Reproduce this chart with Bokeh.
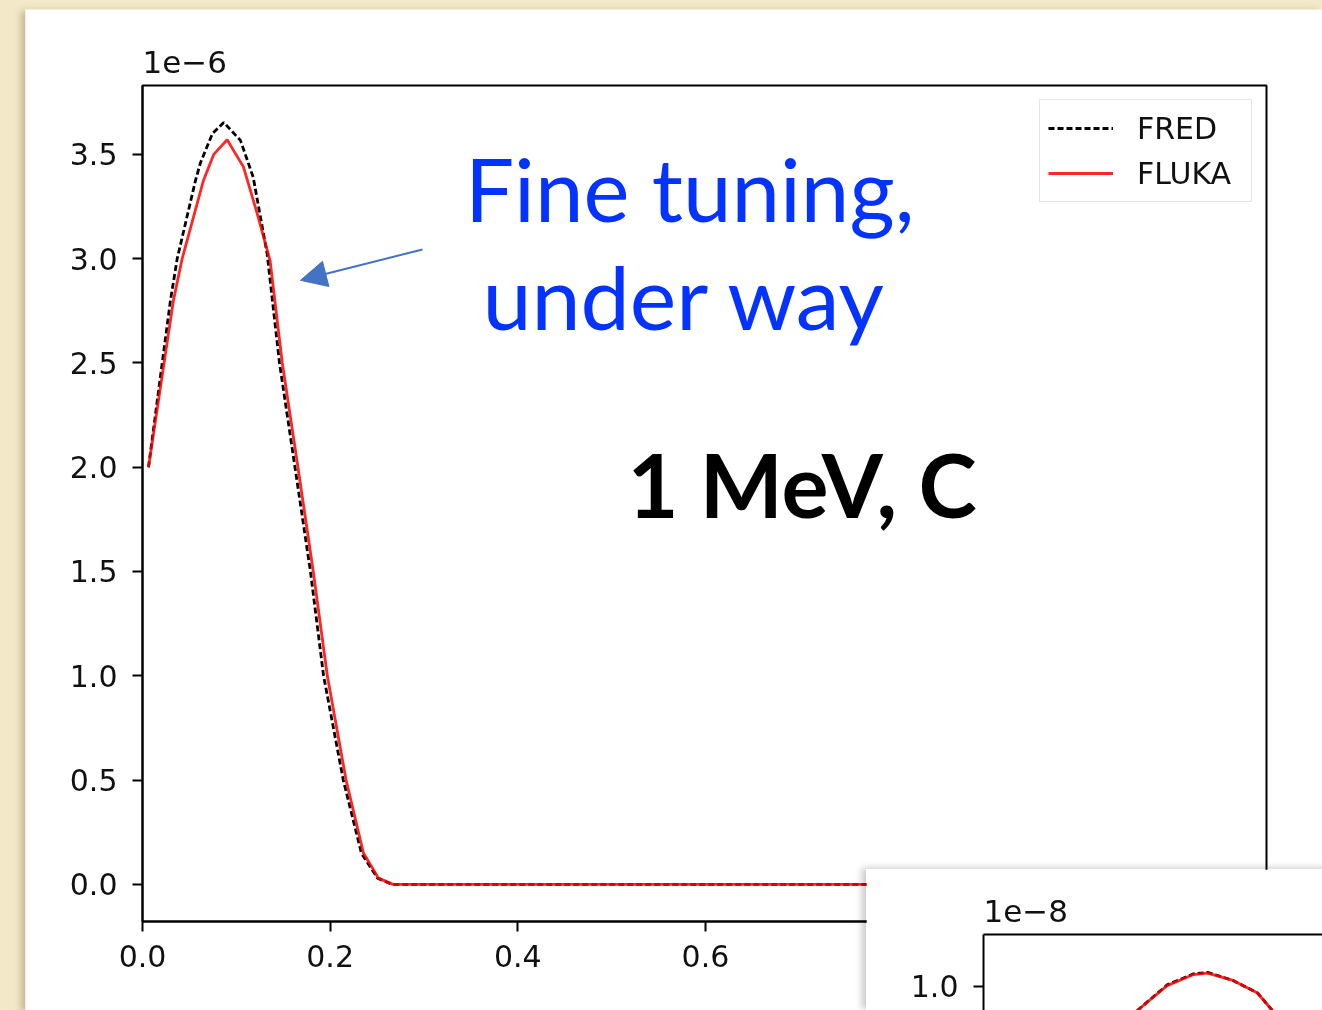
from bokeh.plotting import figure
from bokeh.models import (Label, Arrow, NormalHead, Legend, LegendItem, LinearAxis,
                          Range1d, FixedTicker, InlineStyleSheet, GlobalInlineStyleSheet,
                          PrintfTickFormatter)
from bokeh.layouts import column
from bokeh.embed import file_html
from bokeh.resources import INLINE

# ---------------- data (main panel, y in units of 1e-6) ----------------
fluka_x = [0.0064, 0.0330, 0.0423, 0.0650, 0.0760, 0.0902, 0.1076, 0.1222, 0.1360,
           0.1490, 0.1657, 0.1820, 0.1970, 0.2170, 0.2355, 0.2515, 0.2670,
           0.40, 0.60, 0.80, 1.00, 1.14]
fluka_y = [2.00, 2.80, 3.00, 3.375, 3.50, 3.57, 3.44, 3.217, 2.99,
           2.50, 2.00, 1.50, 1.00, 0.50, 0.15, 0.03, 0.0,
           0.0, 0.0, 0.0, 0.0, 0.0]
fred_x = [0.0064, 0.0298, 0.0370, 0.0565, 0.0618, 0.0746, 0.0866, 0.1044, 0.1180, 0.1328,
          0.1460, 0.1625, 0.1790, 0.1930, 0.2140, 0.2333, 0.2504, 0.2660,
          0.40, 0.60, 0.80, 1.00, 1.14]
fred_y = [2.00, 2.80, 3.00, 3.375, 3.46, 3.60, 3.653, 3.567, 3.39, 3.025,
          2.50, 2.00, 1.50, 1.00, 0.50, 0.15, 0.03, 0.0,
          0.0, 0.0, 0.0, 0.0, 0.0]
x_ticks = [0.0, 0.2, 0.4, 0.6, 0.8, 1.0]
y_ticks = [0.0, 0.5, 1.0, 1.5, 2.0, 2.5, 3.0, 3.5]
series_labels = ["FRED", "FLUKA"]
offset_label = "1e\u22126"

# ---------------- data (inset panel, y in units of 1e-8) ----------------
inset_x = [0.150, 0.164, 0.195, 0.223, 0.238, 0.265, 0.291, 0.305, 0.318]
inset_fluka = [0.950, 0.968, 1.001, 1.016, 1.018, 1.008, 0.991, 0.970, 0.950]
inset_fred = [0.950, 0.968, 1.002, 1.017, 1.019, 1.008, 0.991, 0.970, 0.950]
inset_y_ticks = [0.0, 0.2, 0.4, 0.6, 0.8, 1.0]
inset_offset_label = "1e\u22128"

# annotation texts
note_lines = ["Fine tuning,", "under way"]
case_label = "1 MeV, C"

BEIGE = "#f3e9c9"
BLUE = "#0433ff"
ARROW = "#4472c4"
FONT = "DejaVu Sans"
LW = 2.8

page_css = GlobalInlineStyleSheet(css=f"""
html, body {{ margin: 0 !important; padding: 0; overflow: hidden !important; background: {BEIGE}; }}
""")
main_css = InlineStyleSheet(css="""
:host { position: fixed !important; left: 25px !important; top: 9px !important;
        box-shadow: -4px 2px 7px rgba(110, 90, 50, 0.35); }
""")
inset_css = InlineStyleSheet(css="""
:host { position: fixed !important; left: 866px !important; top: 869px !important;
        box-shadow: -4px -1px 7px rgba(0, 0, 0, 0.22); }
""")


def style_axis(ax, size="30px", standoff=12):
    ax.axis_line_width = 2
    ax.axis_line_color = "black"
    ax.major_tick_line_width = 2
    ax.major_tick_line_color = "black"
    ax.major_tick_out = 10
    ax.major_tick_in = 0
    ax.minor_tick_line_color = None
    ax.major_label_text_font = FONT
    ax.major_label_text_font_size = size
    ax.major_label_text_color = "#111111"
    ax.major_label_standoff = standoff
    ax.formatter = PrintfTickFormatter(format="%.1f")


# ---------------- main figure ----------------
p = figure(width=1297, height=1001,
           x_range=Range1d(0, 1.198), y_range=Range1d(-0.178, 3.83),
           output_backend="svg", toolbar_location=None,
           min_border_left=117, min_border_top=76, min_border_right=56, min_border_bottom=89,
           title=offset_label, stylesheets=[page_css, main_css])
p.background_fill_color = "white"
p.border_fill_color = "white"
p.outline_line_color = "black"
p.outline_line_width = 2
p.grid.visible = False
p.title.align = "left"
p.title.text_font = FONT
p.title.text_font_style = "normal"
p.title.text_font_size = "31px"
p.title.text_color = "#111111"
p.title.standoff = 25

style_axis(p.xaxis[0], standoff=13)
style_axis(p.yaxis[0], standoff=15)
p.xaxis[0].ticker = FixedTicker(ticks=x_ticks)
p.yaxis[0].ticker = FixedTicker(ticks=y_ticks)

r_fred = p.line(fred_x, fred_y, line_color="black", line_width=LW, line_dash="6 3")
r_fluka = p.line(fluka_x, fluka_y, line_color="red", line_width=LW, line_alpha=0.85)

legend = Legend(items=[LegendItem(label=series_labels[0], renderers=[r_fred]),
                       LegendItem(label=series_labels[1], renderers=[r_fluka])],
                location="top_right")
legend.label_text_font = FONT
legend.label_text_font_size = "30px"
legend.label_text_color = "#111111"
legend.glyph_width = 65
legend.glyph_height = 40
legend.label_height = 40
legend.label_width = 106
legend.label_standoff = 24
legend.padding = 8
legend.spacing = 5
legend.margin = 14
legend.border_line_color = "#cccccc"
legend.border_line_width = 1.5
legend.background_fill_alpha = 0.85
p.add_layout(legend)

p.add_layout(Arrow(end=NormalHead(size=26, fill_color=ARROW, line_color=ARROW),
                   x_start=0.2984, y_start=3.044, x_end=0.1684, y_end=2.896,
                   line_color=ARROW, line_width=2))

p.add_layout(Label(x=0.3438, y=3.337, text=note_lines[0], text_font="Lato",
                   text_font_size="87px", text_color=BLUE, text_baseline="alphabetic"))
p.add_layout(Label(x=0.3623, y=2.819, text=note_lines[1], text_font="Lato",
                   text_font_size="88px", text_color=BLUE, text_baseline="alphabetic"))
p.add_layout(Label(x=0.5168, y=1.918, text=case_label, text_font="Lato",
                   text_font_style="bold", text_font_size="88px", text_color="black",
                   text_baseline="alphabetic"))

# ---------------- inset figure (its lower/right part lies outside the window) ----------------
q = figure(width=512, height=141,
           x_range=Range1d(0, 0.360), y_range=Range1d(0.9673, 1.0703),
           x_axis_location=None,
           output_backend="svg", toolbar_location=None,
           min_border_left=117, min_border_top=65, min_border_right=56, min_border_bottom=0,
           title=inset_offset_label, stylesheets=[inset_css])
q.background_fill_color = "white"
q.border_fill_color = "white"
q.outline_line_color = None
q.grid.visible = False
q.title.align = "left"
q.title.text_font = FONT
q.title.text_font_style = "normal"
q.title.text_font_size = "31px"
q.title.text_color = "#111111"
q.title.standoff = 25
style_axis(q.yaxis[0], standoff=15)
q.yaxis[0].ticker = FixedTicker(ticks=inset_y_ticks)
top_axis = LinearAxis(ticker=FixedTicker(ticks=[]), axis_line_width=2, axis_line_color="black",
                      major_tick_line_color=None, minor_tick_line_color=None,
                      major_label_text_font_size="0px")
q.add_layout(top_axis, "above")
q.line(inset_x, inset_fred, line_color="black", line_width=LW, line_dash="6 3")
q.line(inset_x, inset_fluka, line_color="red", line_width=LW, line_alpha=0.85)

layout = column(p, q)
open("out.html", "w").write(file_html(layout, INLINE))
